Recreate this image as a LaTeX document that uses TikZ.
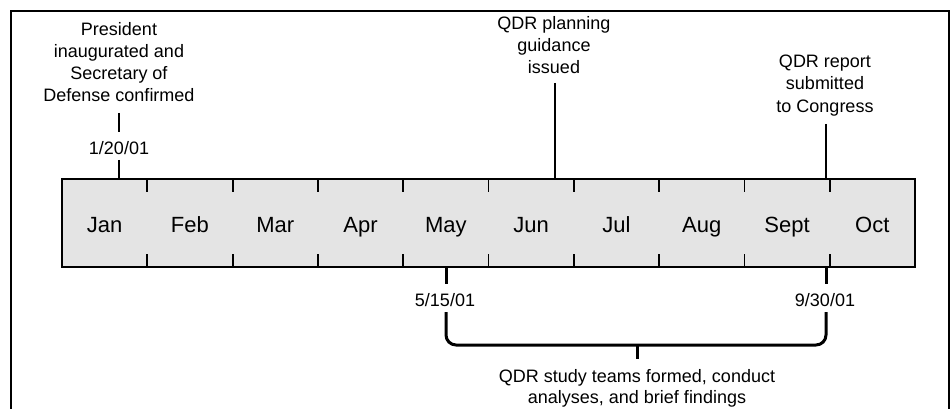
\documentclass[tikz,border=0pt]{standalone}
\usepackage{fontspec}
\setmainfont{Liberation Sans}
\definecolor{barfill}{HTML}{E4E4E4}
\begin{document}
\begin{tikzpicture}[x=1pt,y=-1pt,
  month/.style={anchor=base,inner sep=0pt,font=\fontsize{22}{26}\selectfont},
  note/.style={anchor=north,align=center,inner sep=0pt,font=\fontsize{18}{22.2}\selectfont},
  datelbl/.style={anchor=base,inner sep=0pt,font=\fontsize{18}{22}\selectfont},
  thin line/.style={line width=2pt},
  thick line/.style={line width=3pt},
  tickline/.style={line width=1.8pt}]
\useasboundingbox (0,0) rectangle (951,409);
% frame
\draw[line width=2pt] (11,415) -- (11,11) -- (949,11) -- (949,415);
% bar
\draw[line width=2pt,fill=barfill] (62,179) rectangle (915,267);
\coordinate (barNW) at (62,179);
\foreach \k in {1,...,9}{
  \draw[tickline] ({62+85.3*\k},179) -- ({62+85.3*\k},192);
  \draw[tickline] ({62+85.3*\k},267) -- ({62+85.3*\k},254);
}
\foreach \m [count=\i from 0] in {Jan,Feb,Mar,Apr,May,Jun,Jul,Aug,Sept,Oct}{
  \node[month] (m\i) at ({62+85.3*(\i+0.5)},233) {\m};
}
% annotation 1
\node[note] (t1) at (119,22) {President\\inaugurated and\\Secretary of\\Defense confirmed};
\node[datelbl] (d1) at (119,155) {1/20/01};
\coordinate (b1) at (119,179);
\draw[thin line] (119,113) -- (119,132);
\draw[thin line] (119,160) -- (b1);
% annotation 2
\node[note] (t2) at (554,16) {QDR planning\\guidance\\issued};
\coordinate (b2) at (555,179);
\draw[thin line] (555,83) -- (b2);
% annotation 3
\node[note] (t3) at (825,55) {QDR report\\submitted\\to Congress};
\coordinate (b3) at (826,179);
\draw[thin line] (826,124) -- (b3);
% bottom dates
\node[datelbl] (d4) at (445,306) {5/15/01};
\node[datelbl] (d5) at (825,306) {9/30/01};
\draw[thick line] (446,267) -- (446,284);
\draw[thick line] (826,267) -- (826,284);
\draw[thick line,rounded corners=10pt] (446,312) -- (446,345) -- (826,345) -- (826,312);
\coordinate (bm) at (637,345);
\node[note,font=\fontsize{18}{21}\selectfont] (t4) at (637,369.5) {QDR study teams formed, conduct\\analyses, and brief findings};
\draw[thick line] (bm) -- (637,359);
\end{tikzpicture}
\end{document}
